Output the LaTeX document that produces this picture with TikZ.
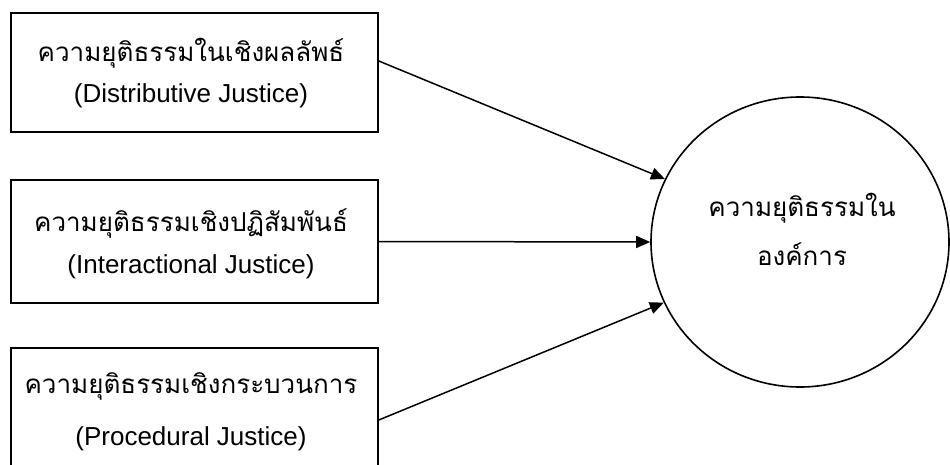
\documentclass[tikz,border=0pt]{standalone}
\usepackage{fontspec}
\setmainfont{Liberation Sans}
\newfontfamily\thaifont[Script=Thai]{Loma}
\usetikzlibrary{arrows.meta,shapes.geometric}
\begin{document}
\begin{tikzpicture}[x=1pt,y=-1pt,
  box/.style={draw,line width=1.6pt,rectangle,minimum width=367pt,inner sep=0pt},
  th/.style={anchor=base,inner sep=0pt,font=\thaifont\fontsize{26}{30}\selectfont},
  en/.style={anchor=base,inner sep=0pt,font=\fontsize{26}{30}\selectfont},
  arr/.style={line width=1.5pt,-{Triangle[length=14pt,width=12pt]}}]
\useasboundingbox (0,0) rectangle (950,465);
\clip (0,0) rectangle (950,465);
\node[box,minimum height=119pt] (b1) at (194.5,72.5) {};
\node[box,minimum height=123pt] (b2) at (194.5,241.5) {};
\node[box,minimum height=127pt] (b3) at (194.5,411.5) {};
\node[draw,ellipse,line width=1.6pt,minimum width=298pt,minimum height=290pt,inner sep=0pt] (c) at (800,242) {};
\node[th] (t1) at (191,62) {ความยุติธรรมในเชิงผลลัพธ์};
\node[en] (e1) at (191,103) {(Distributive Justice)};
\node[th] (t2) at (191,232) {ความยุติธรรมเชิงปฏิสัมพันธ์};
\node[en] (e2) at (191,273) {(Interactional Justice)};
\node[th] (t3) at (191,393) {ความยุติธรรมเชิงกระบวนการ};
\node[en] (e3) at (191,445) {(Procedural Justice)};
\node[th] (c1) at (802,217) {ความยุติธรรมใน};
\node[th] (c2) at (802,265) {องค์การ};
\draw[arr] ([yshift=11.5pt]b1.east) -- (c.155.7);
\draw[arr] (b2.east) -- (c.180.4);
\draw[arr] ([yshift=-8.5pt]b3.east) -- (c.204);
\end{tikzpicture}
\end{document}
